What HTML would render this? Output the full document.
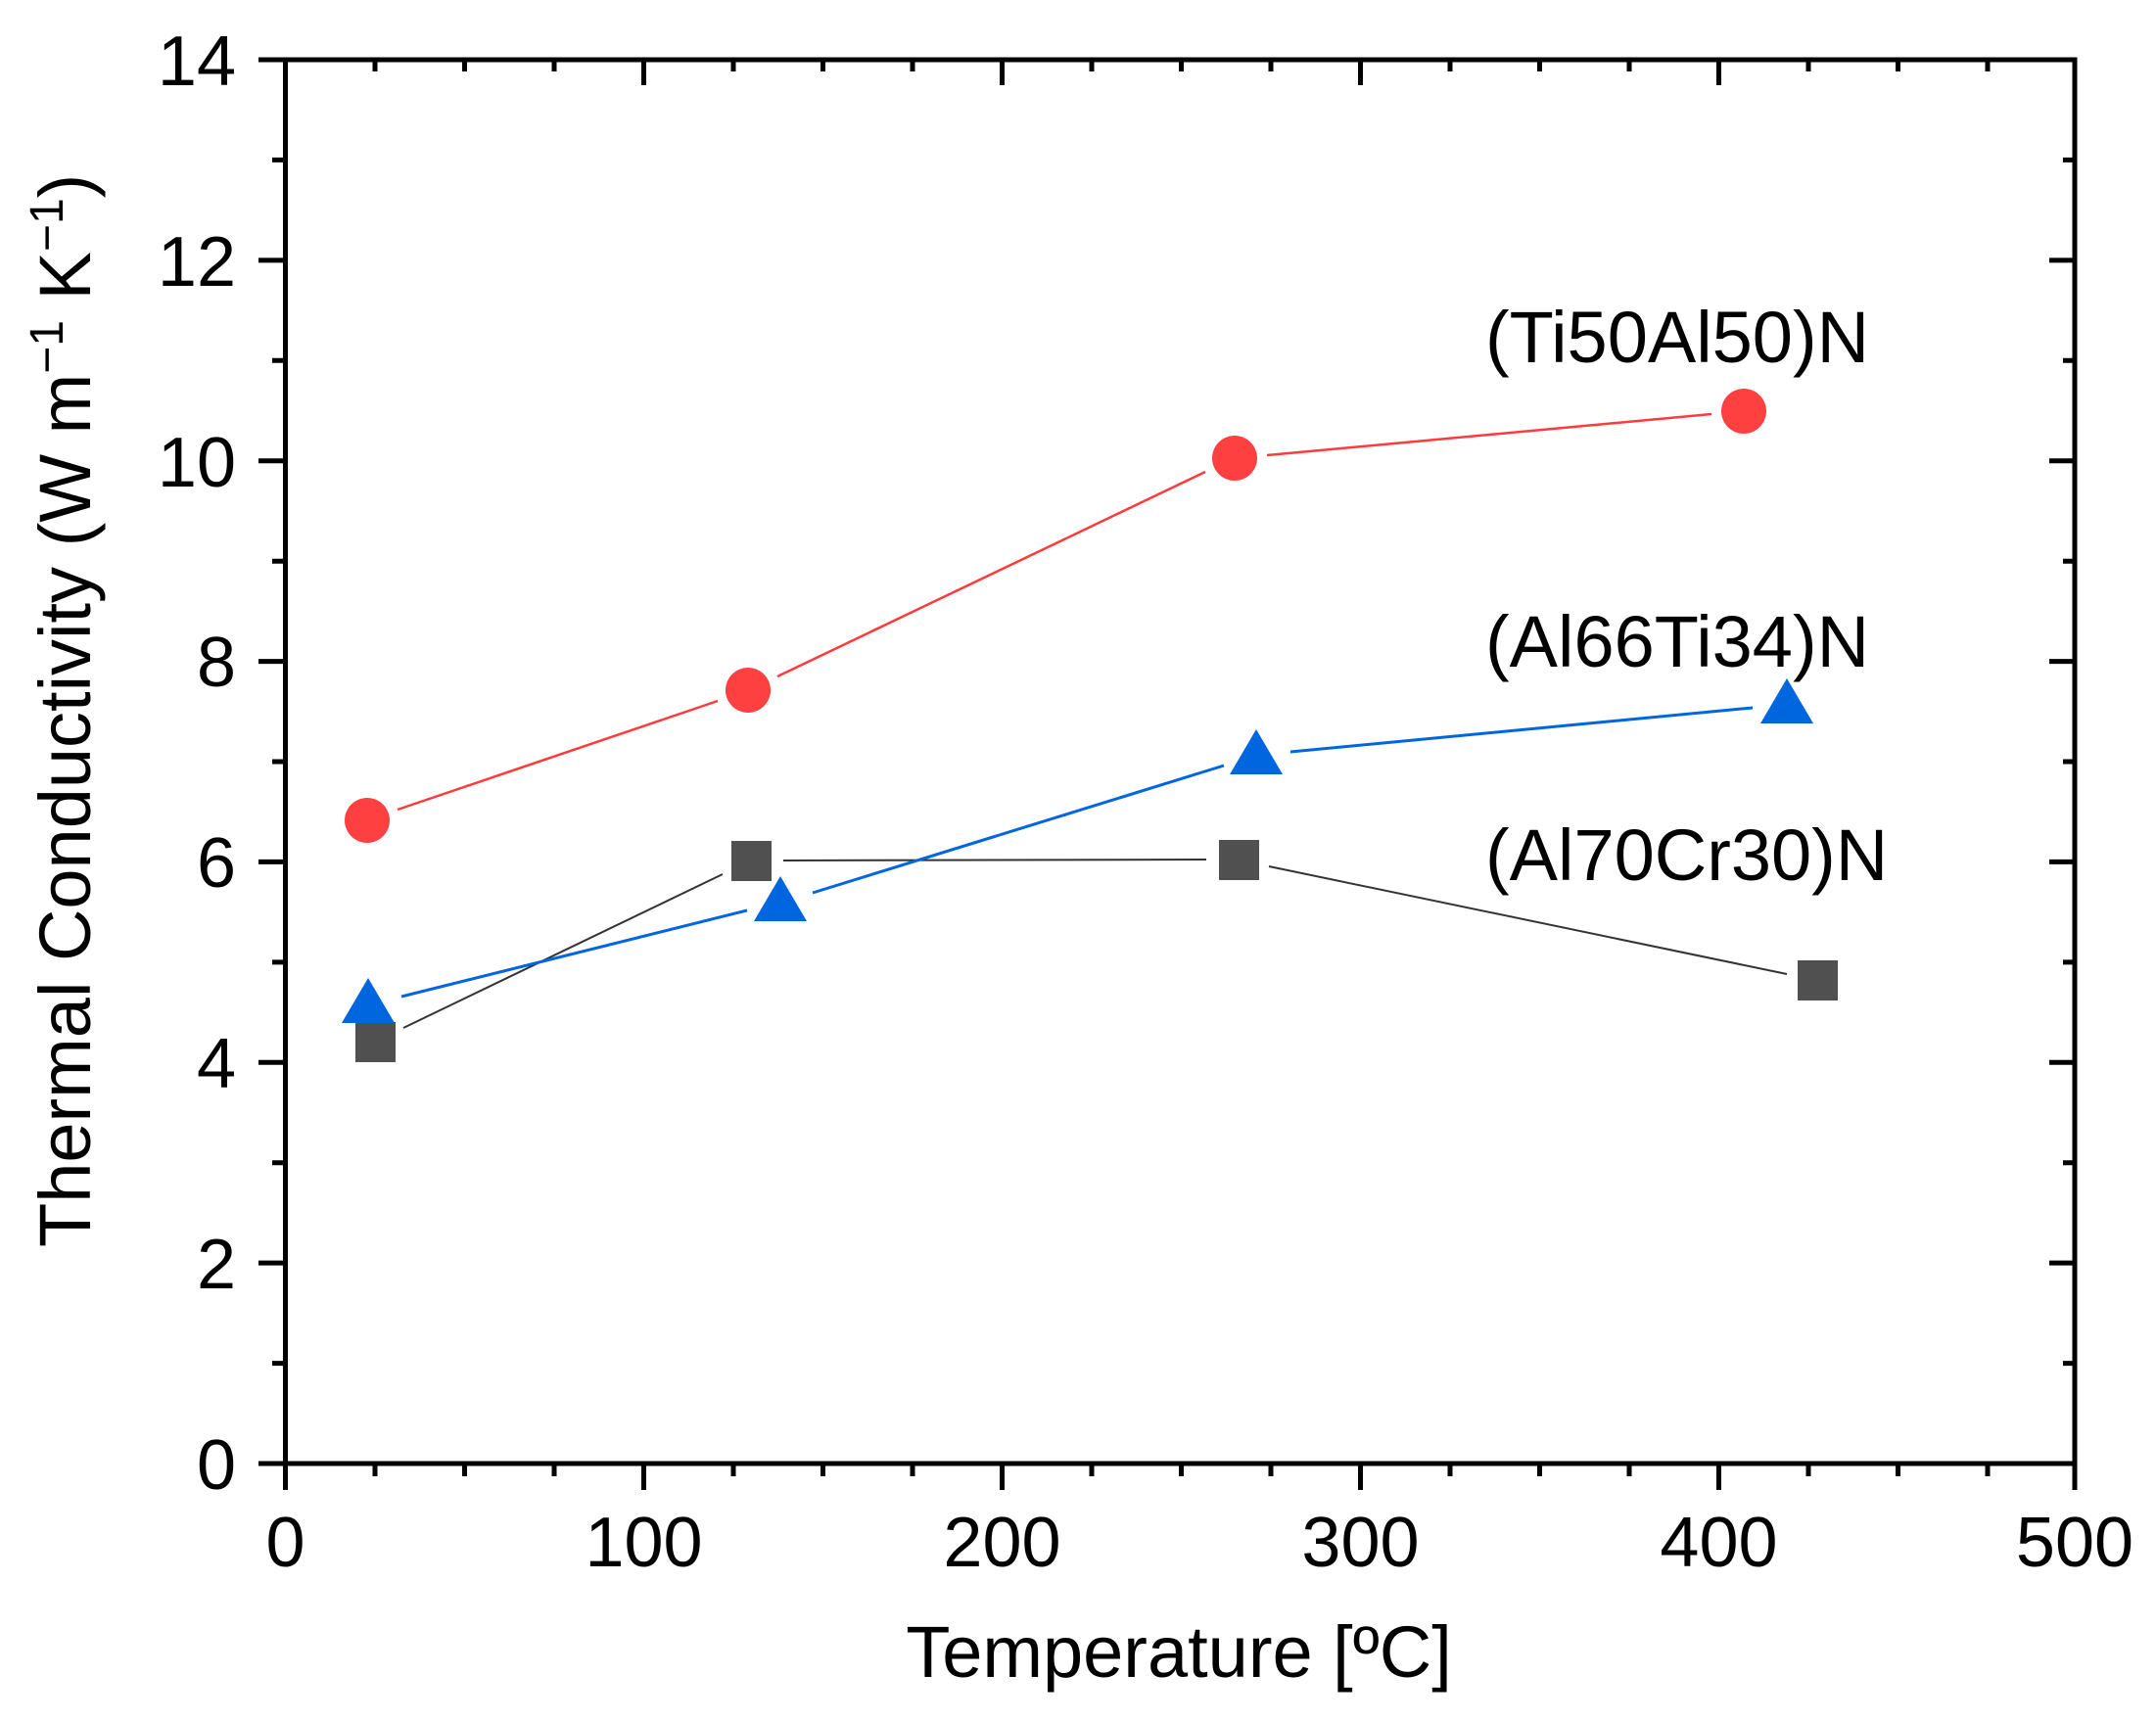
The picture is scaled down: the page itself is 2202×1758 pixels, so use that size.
<!DOCTYPE html>
<html><head><meta charset="utf-8"><style>
html,body{margin:0;padding:0;background:#fff;}
svg{display:block;}
text{font-family:"Liberation Sans",Arial,sans-serif;fill:#000;}
</style></head><body>
<svg width="2202" height="1758" viewBox="0 0 2202 1758" xmlns="http://www.w3.org/2000/svg">
<rect width="2202" height="1758" fill="#fff"/>
<g stroke="#000" stroke-width="5" fill="none">
<rect x="291.5" y="61" width="1827.5" height="1434"/>
<line x1="264" y1="1495" x2="291.5" y2="1495"/>
<line x1="291.5" y1="1495" x2="291.5" y2="1522"/>
<!-- bottom/top x ticks -->
<path d="M657.5 1495v27M1023.5 1495v27M1389.5 1495v27M1755.5 1495v27M2119 1495v27
M383 1495v13M474.5 1495v13M566 1495v13M749 1495v13M840.5 1495v13M932 1495v13M1115 1495v13M1206.5 1495v13M1298 1495v13M1481 1495v13M1572.5 1495v13M1664 1495v13M1847 1495v13M1938.5 1495v13M2030 1495v13
M657.5 61v26M1023.5 61v26M1389.5 61v26M1755.5 61v26
M383 61v12M474.5 61v12M566 61v12M749 61v12M840.5 61v12M932 61v12M1115 61v12M1206.5 61v12M1298 61v12M1481 61v12M1572.5 61v12M1664 61v12M1847 61v12M1938.5 61v12M2030 61v12"/>
<!-- left/right y ticks -->
<path d="M264 1290.1h27.5M264 1085.3h27.5M264 880.4h27.5M264 675.6h27.5M264 470.7h27.5M264 265.9h27.5M264 61h27.5
M278 1392.6h13.5M278 1187.7h13.5M278 982.9h13.5M278 778h13.5M278 573.2h13.5M278 368.3h13.5M278 163.4h13.5
M2119 1290.1h-26M2119 1085.3h-26M2119 880.4h-26M2119 675.6h-26M2119 470.7h-26M2119 265.9h-26
M2119 1392.6h-12M2119 1187.7h-12M2119 982.9h-12M2119 778h-12M2119 573.2h-12M2119 368.3h-12M2119 163.4h-12"/>
</g>
<!-- tick labels -->
<g font-size="72" text-anchor="middle">
<text x="291.5" y="1600">0</text>
<text x="657.5" y="1600">100</text>
<text x="1023.5" y="1600">200</text>
<text x="1389.5" y="1600">300</text>
<text x="1755.5" y="1600">400</text>
<text x="2119" y="1600">500</text>
</g>
<g font-size="72" text-anchor="end">
<text x="241" y="1521">0</text>
<text x="241" y="1316">2</text>
<text x="241" y="1111">4</text>
<text x="241" y="906">6</text>
<text x="241" y="701">8</text>
<text x="241" y="497">10</text>
<text x="241" y="292">12</text>
<text x="241" y="87">14</text>
</g>
<text x="1204" y="1713" font-size="74" text-anchor="middle">Temperature [ºC]</text>
<text transform="translate(92,1274) rotate(-90)" font-size="74">Thermal Conductivity (W m<tspan font-size="48" dy="-28">−1</tspan><tspan dy="28"> K</tspan><tspan font-size="48" dy="-28">−1</tspan><tspan dy="28">)</tspan></text>
<!-- series labels -->
<g font-size="74">
<text x="1517" y="370">(Ti50Al50)N</text>
<text x="1517" y="681">(Al66Ti34)N</text>
<text x="1517" y="899">(Al70Cr30)N</text>
</g>
<!-- red -->
<g stroke="#ff3b3b" stroke-width="2.5">
<line x1="406" y1="827" x2="733" y2="716"/>
<line x1="794" y1="691" x2="1231" y2="482"/>
<line x1="1294" y1="465" x2="1748" y2="423"/>
</g>
<g fill="#ff4040">
<circle cx="375" cy="838" r="23"/>
<circle cx="764" cy="705" r="23"/>
<circle cx="1261" cy="468" r="23"/>
<circle cx="1781" cy="420" r="23"/>
</g>
<!-- gray -->
<g stroke="#333" stroke-width="2">
<line x1="412" y1="1050" x2="738" y2="893"/>
<line x1="800" y1="879" x2="1232" y2="878"/>
<line x1="1296" y1="885" x2="1825" y2="995"/>
</g>
<g fill="#505050">
<rect x="363" y="1044" width="41" height="41"/>
<rect x="747" y="859" width="41" height="41"/>
<rect x="1245" y="858" width="41" height="41"/>
<rect x="1836" y="981" width="41" height="41"/>
</g>
<!-- blue -->
<g stroke="#0066e0" stroke-width="3">
<line x1="410" y1="1018" x2="763" y2="930"/>
<line x1="830" y1="912" x2="1250" y2="782"/>
<line x1="1318" y1="768" x2="1790" y2="723"/>
</g>
<g fill="#0066e0">
<polygon points="376,999 403,1045 349,1045"/>
<polygon points="797,895 824,941 770,941"/>
<polygon points="1283,745 1310,791 1256,791"/>
<polygon points="1825,693 1852,739 1798,739"/>
</g>
</svg>
</body></html>
